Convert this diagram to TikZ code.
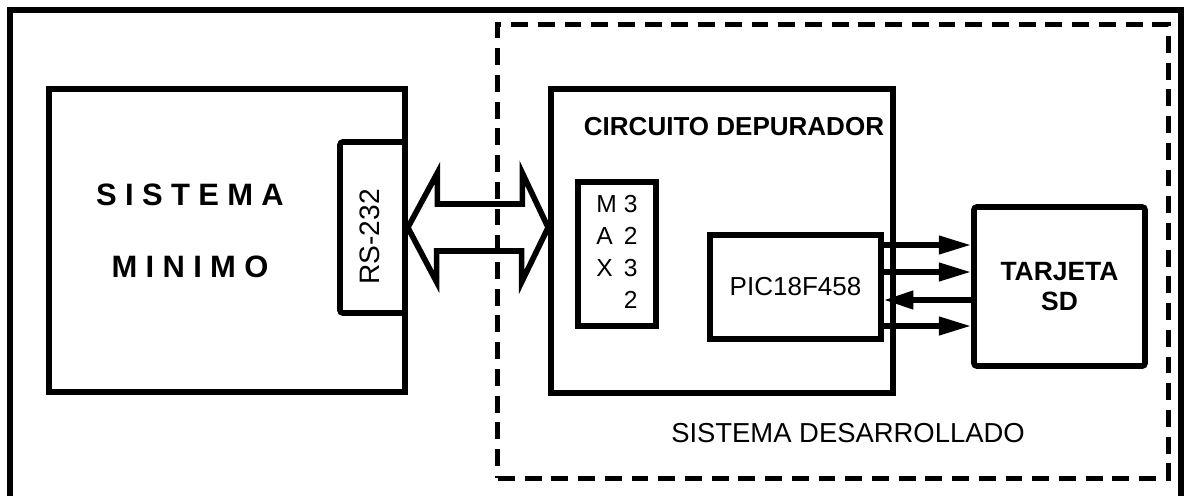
\documentclass[tikz,border=0pt]{standalone}
\usepackage{fontspec}
\setmainfont{Liberation Sans}
\usetikzlibrary{arrows.meta,calc}

\begin{document}
\begin{tikzpicture}[x=0.025cm, y=-0.025cm,
    block/.style={rectangle, draw, line width=4pt, inner sep=0pt, align=center},
    bigfont/.style={font=\bfseries\fontsize{22}{26}\selectfont\addfontfeatures{LetterSpace=27}},
    lblfont/.style={font=\fontsize{18.5}{22}\selectfont},
    tosd/.style={line width=4pt, -{Triangle[length=23pt,width=12.5pt]}},
    frsd/.style={line width=4pt, {Triangle[length=21pt,width=12.5pt]}-}]
    \useasboundingbox (0,0) rectangle (1184,495);
    \draw[line width=4.5pt] (10,500) -- (10,10) -- (1181,10) -- (1181,500);

    \node[block, dashed, line width=3.6pt, dash pattern=on 12pt off 7pt, minimum width=16.75cm, minimum height=11.325cm] (des) at (833,251.5) {};
    \node[block, minimum width=8.9cm, minimum height=7.575cm] (sis) at (227,240.5) {};
    \node[block, rounded corners=2pt, minimum width=1.625cm, minimum height=4.275cm] (rs) at (372.5,227.5) {};
    \node[block, minimum width=8.55cm, minimum height=7.6cm] (dep) at (722,241) {};
    \node[block, minimum width=1.95cm, minimum height=3.6cm, font=\fontsize{17.5}{22.8}\selectfont] (max) at (617,254)
        {\begin{tabular}{@{}l@{\hspace{5pt}}l@{}}M&3\\A&2\\X&3\\&2\end{tabular}};
    \node[block, minimum width=4.275cm, minimum height=2.6cm, lblfont] (pic) at (795.5,287) {PIC18F458};
    \node[block, rounded corners=2pt, minimum width=4.275cm, minimum height=3.975cm,
        font=\bfseries\fontsize{18.8}{22}\selectfont] (sd) at (1059.5,286.5) {TARJETA\\SD};

    \node[bigfont] (sisA) at (190,195) {SISTEMA};
    \node[bigfont] (sisB) at (190,267) {MINIMO};
    \node[rotate=90, font=\fontsize{20}{24}\selectfont] (rslbl) at (370,237) {RS-232};
    \node[font=\bfseries\fontsize{18.5}{22}\selectfont] (deplbl) at (734,127) {CIRCUITO DEPURADOR};
    \node[font=\fontsize{19.5}{24}\selectfont] (deslbl) at (848,433) {SISTEMA DESARROLLADO};

    \draw[line width=4pt] (rs.east) -- ++(29.5,-54.5) -- ++(0,31) -- ++(85,0) -- ++(0,-31)
        -- (rs.east -| dep.west) -- ++(-26.5,54.5) -- ++(0,-31) -- ++(-85,0) -- ++(0,31) -- cycle;

    \foreach \dy/\dir in {-42/tosd, -15/tosd, 13/frsd, 39/tosd} {
        \coordinate (p) at ($(pic.east)+(0,\dy)$);
        \draw[\dir] (p) -- (p -| sd.west);
    }
\end{tikzpicture}
\end{document}
